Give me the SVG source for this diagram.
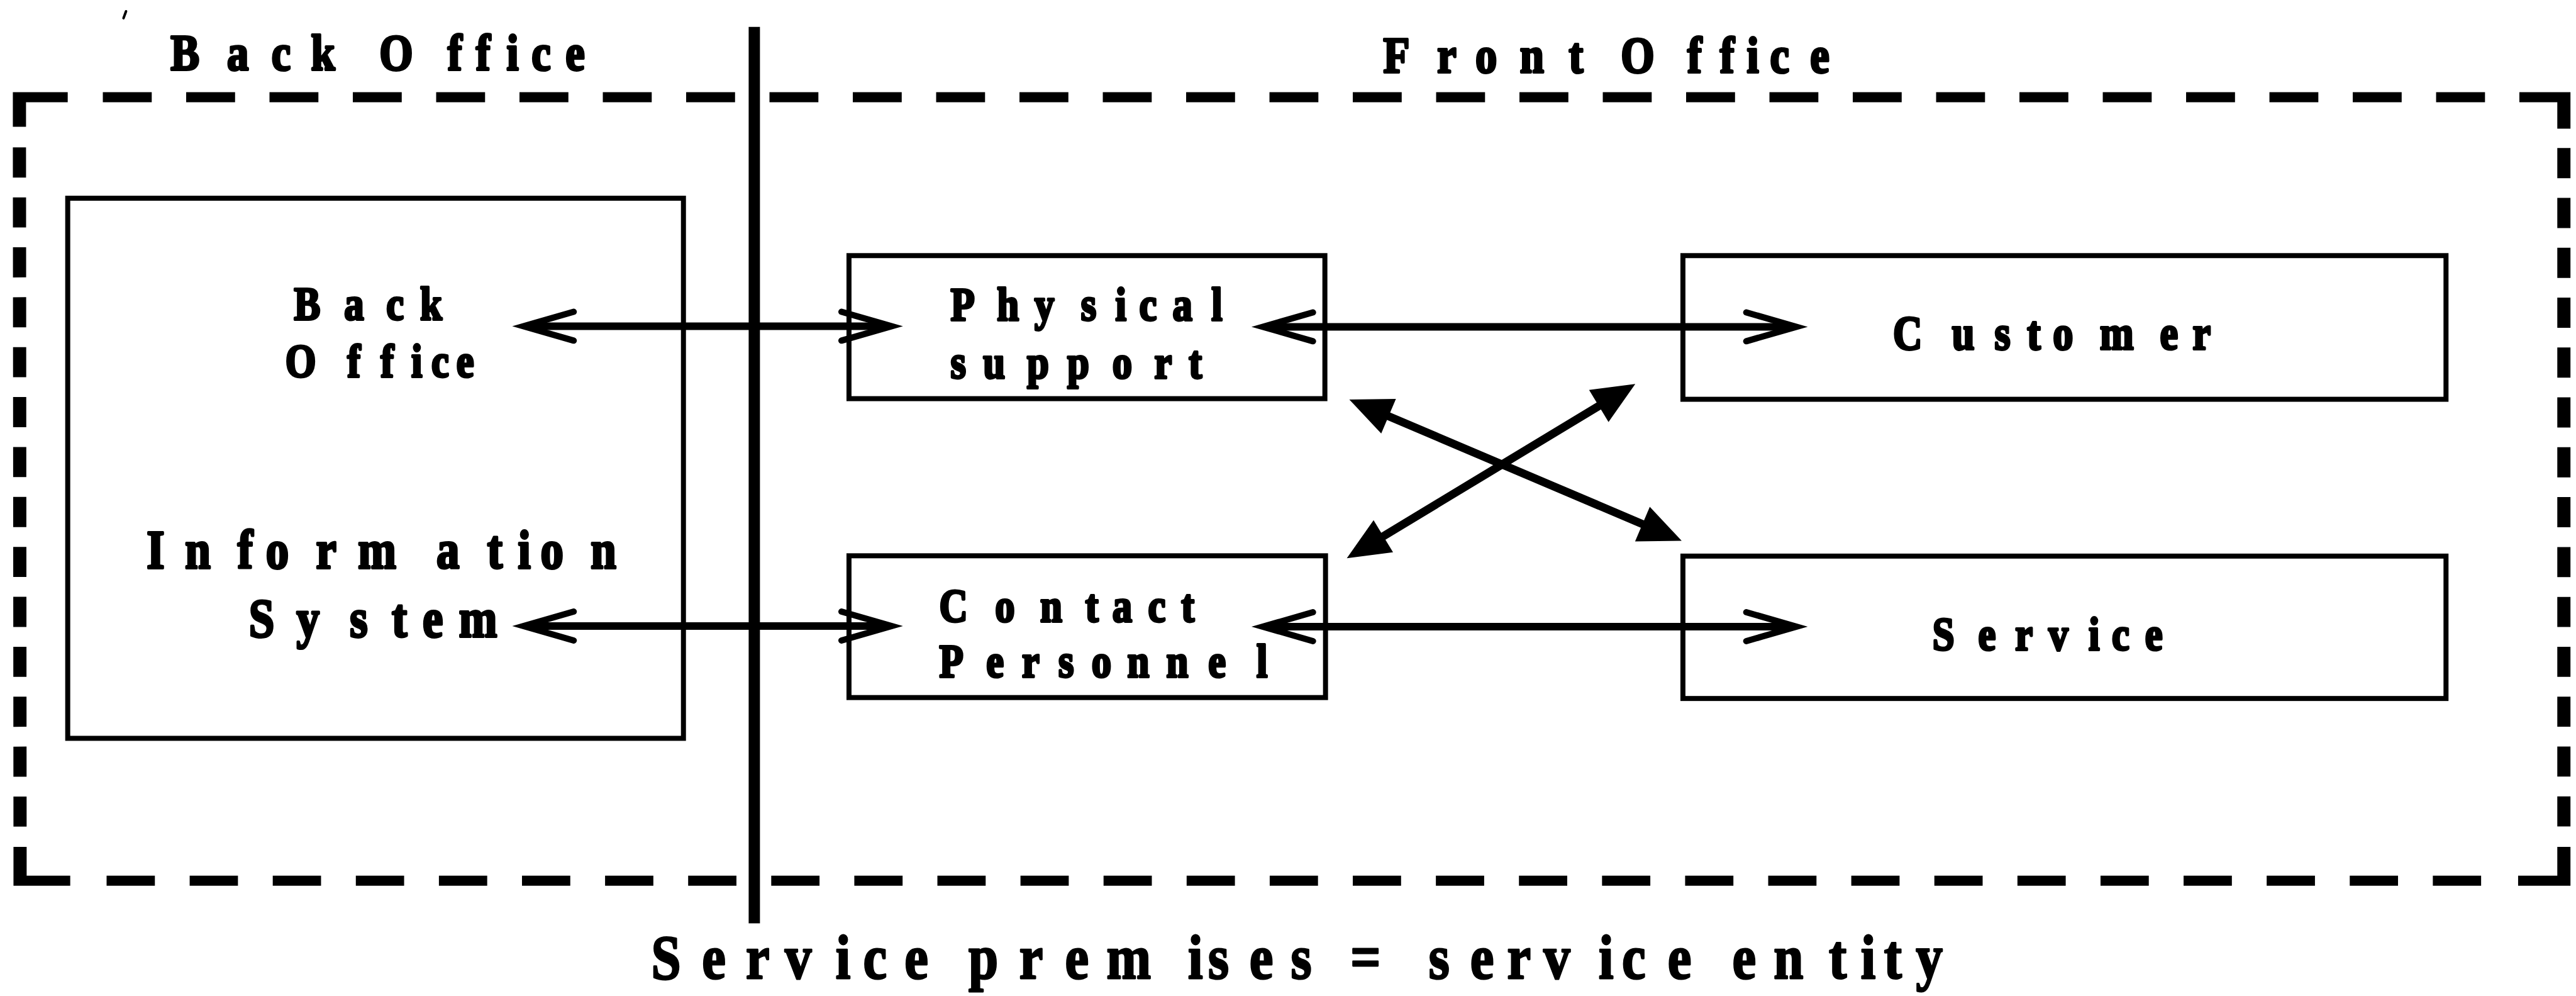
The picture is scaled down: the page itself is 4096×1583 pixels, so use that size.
<svg xmlns="http://www.w3.org/2000/svg" width="4096" height="1583" viewBox="0 0 4096 1583">
  <defs>
    <style>
      .lbl { font-family: "Liberation Serif", "Times New Roman", serif; font-weight: bold; fill: #000; stroke: #000; stroke-width: 4; stroke-linejoin: round; }
      .cap { stroke-width: 3; }
      .box { fill: #fff; stroke: #000; stroke-width: 8; }
      .dash-h { fill: none; stroke: #000; stroke-width: 16; }
      .dash-v { fill: none; stroke: #000; stroke-width: 21; }
      .corner { fill: #000; }
      .divider { fill: none; stroke: #000; stroke-width: 18; }
      .link { fill: none; stroke: #000; stroke-width: 12; }
      .open { marker-start: url(#chevron); marker-end: url(#chevron); }
      .solid { stroke-width: 13; marker-start: url(#tri); marker-end: url(#tri); }
    </style>
    <!-- open "V" arrowhead, tip sits 25 units past the path end -->
    <marker id="chevron" markerUnits="userSpaceOnUse" orient="auto-start-reverse"
            viewBox="-100 -40 140 80" markerWidth="140" markerHeight="80" refX="-7" refY="0">
      <path d="M-80,-23 L0,0 L-80,23" fill="none" stroke="#000" stroke-width="10"
            stroke-linecap="round" stroke-linejoin="miter" stroke-miterlimit="10"/>
    </marker>
    <!-- filled triangular arrowhead, tip sits 40 units past the path end -->
    <marker id="tri" markerUnits="userSpaceOnUse" orient="auto-start-reverse"
            viewBox="-80 -40 100 80" markerWidth="100" markerHeight="80" refX="-40" refY="0">
      <path d="M0,0 L-68,-30 L-68,30 Z" fill="#000"/>
    </marker>
  </defs>

  <rect width="4096" height="1583" fill="#fff"/>

  <g transform="scale(0.997)">
    <!-- service premises frame, office divider and captions -->
    <g id="premises">
      <path d="M201,18 L197,29" stroke="#000" stroke-width="4" stroke-linecap="round"/>
      <path class="dash-h" d="M164,155 H3965" stroke-dasharray="78 54.9"/>
      <path class="dash-h" d="M170,1404 H3960" stroke-dasharray="77 55.5"/>
      <path class="dash-v" d="M31,235 L32,1345" stroke-dasharray="48 31.6"/>
      <path class="dash-v" d="M4089,236 V1345" stroke-dasharray="48 31.5"/>
      <path class="corner" d="M20.5,147 H108 V163 H41.5 V202 H20.5 Z"/>
      <path class="corner" d="M4099.5,147 H4018 V163 H4078.5 V205 H4099.5 Z"/>
      <path class="corner" d="M21.5,1350 H42.5 V1396 H112 V1412 H21.5 Z"/>
      <path class="corner" d="M4099.5,1350 V1412 H4016 V1396 H4078.5 V1350 Z"/>

      <path class="divider" d="M1203,43 V1472"/>

      <text class="lbl" font-size="81" transform="scale(0.85,1)"
            x="320 426 509.5 583.5 659 712 840 893 950.5 997.5 1061" y="111">Back Office</text>
      <text class="lbl" font-size="81" transform="scale(0.85,1)"
            x="2595.3 2696.5 2768.2 2851.8 2943.5 2994 3041.2 3165.9 3227 3277.6 3321.2 3396.5" y="115">Front Office</text>
      <text class="lbl cap" font-size="100" transform="scale(0.85,1)"
            x="1222 1317.3 1399.6 1472.6 1567.9 1619.6 1697.3 1752.6 1817.3 1912.6 1998.5 2076.1 2229.1 2266.7 2344.4 2422 2482 2533.8 2611.4 2680.8 2758.5 2827.9 2896.1 2999.6 3043.2 3129.1 3187.9 3250.2 3327.9 3431.4 3491.4 3534.9 3594.9"
            y="1559.5">Service premises = service entity</text>
    </g>

    <!-- back office information system -->
    <g id="node-back-office">
      <rect class="box" x="108" y="316" width="982" height="861" stroke-width="9"/>
      <text class="lbl" font-size="74" transform="scale(0.85,1)"><tspan x="551.8 645.9 724.7 788.2" y="510">Back</tspan> <tspan x="535.3 651.8 714.1 771.8 809.4 856.5" y="601">Office</tspan></text>
      <text class="lbl" font-size="86" transform="scale(0.85,1)"><tspan x="275.3 347.1 445.9 498.8 592.9 671.8 818.8 914.1 971.8 1014.1 1108.2" y="906">Information</tspan> <tspan x="467.1 556.5 656.5 735.3 792.9 861.2" y="1015">System</tspan></text>
    </g>

    <g id="node-physical-support">
      <rect class="box" x="1354" y="407.5" width="759" height="228"/>
      <text class="lbl" font-size="74" transform="scale(0.85,1)"><tspan x="1783.5 1870.6 1941.2 2028.2 2092.9 2137.6 2200 2272.9" y="511">Physical</tspan> <tspan x="1783.5 1844.7 1927.1 2002.4 2087.1 2165.9 2230.6" y="603">support</tspan></text>
    </g>

    <g id="node-contact-personnel">
      <rect class="box" x="1354" y="886" width="760" height="226"/>
      <text class="lbl" font-size="74" transform="scale(0.85,1)"><tspan x="1762.4 1867.1 1951.8 2036.5 2087.1 2154.1 2216.5" y="991">Contact</tspan> <tspan x="1762.4 1850.6 1917.6 1985.9 2048.2 2115.3 2188.2 2267.1 2357.6" y="1079">Personnel</tspan></text>
    </g>

    <g id="node-customer">
      <rect class="box" x="2684" y="407.5" width="1217" height="229"/>
      <text class="lbl" font-size="76" transform="scale(0.85,1)"
            x="3551.8 3662.4 3742.4 3803.5 3851.8 3940 4052.9 4114.1" y="557">Customer</text>
    </g>

    <g id="node-service">
      <rect class="box" x="2684" y="886.5" width="1217" height="227"/>
      <text class="lbl" font-size="74" transform="scale(0.85,1)"
            x="3625.9 3711.8 3781.2 3843.5 3918.8 3962.4 4024.7" y="1036">Service</text>
    </g>

    <!-- two-way links between the entities -->
    <g id="connectors">
      <path class="link open" d="M842,520 H1415"/>
      <path class="link open" d="M2021,521 H2858"/>
      <path class="link open" d="M842,998 H1415"/>
      <path class="link open" d="M2021,999 H2858"/>
      <path class="link solid" d="M2188.8,652.6 L2645.2,846.4"/>
      <path class="link solid" d="M2182.2,869.3 L2573.8,632.7"/>
    </g>
  </g>
</svg>
